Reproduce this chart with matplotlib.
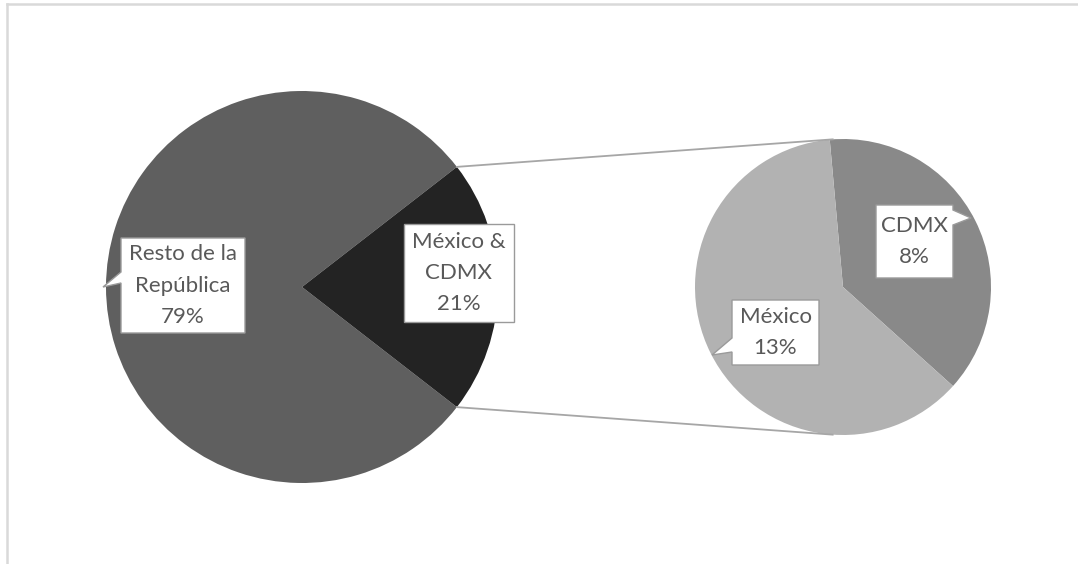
import numpy as np
import matplotlib
matplotlib.use("Agg")
import matplotlib.pyplot as plt
from matplotlib.patches import Polygon

plt.rcParams['font.family'] = ['Lato', 'DejaVu Sans']

# data
main_labels = ["Resto de la\nRepública", "México &\nCDMX"]
main_values = [79, 21]
sub_labels = ["CDMX", "México"]
sub_values = [8, 13]

W, H = 1078, 564
TEXT_COL = "#595959"

fig = plt.figure(figsize=(W / 100, H / 100), dpi=100)
ax = fig.add_axes([0, 0, 1, 1])


def py(y):
    # pixel row -> axis y
    return H - y


# main pie: the small share is centred on the right side
c1 = (302, py(287))
r1 = 196
half = main_values[1] / sum(main_values) * 180
ax.pie(main_values, colors=["#5f5f5f", "#232323"], startangle=half,
       center=c1, radius=r1, frame=True,
       wedgeprops=dict(linewidth=0))

# secondary pie
c2 = (843, py(287))
r2 = 148
ax.pie(sub_values, colors=["#898989", "#b2b2b2"], startangle=-42,
       center=c2, radius=r2, frame=True,
       wedgeprops=dict(linewidth=0))
ax.set_xlim(0, W)
ax.set_ylim(0, H)
ax.set_aspect("equal")
ax.axis("off")

# outer frame (only left and top edges show)
ax.plot([7, 7], [py(4), 0], color="#d9d9d9", lw=1.8)
ax.plot([7, W], [py(4), py(4)], color="#d9d9d9", lw=1.8)

# connector lines
for sgn in (1, -1):
    a1 = np.deg2rad(sgn * half)
    a2 = np.deg2rad(sgn * 94)
    p1 = (c1[0] + r1 * np.cos(a1), c1[1] + r1 * np.sin(a1))
    p2 = (c2[0] + r2 * np.cos(a2), c2[1] + r2 * np.sin(a2))
    ax.plot([p1[0], p2[0]], [p1[1], p2[1]], color="#a6a6a6", lw=1.3, zorder=1)


def callout(box, text, tip=None, side=None, base=None):
    x0, y0, x1, y1 = box
    pts = [(x0, y0), (x1, y0)]
    if side == "right":
        pts += [(x1, base[0]), tip, (x1, base[1])]
    pts += [(x1, y1), (x0, y1)]
    if side == "left":
        pts += [(x0, base[1]), tip, (x0, base[0])]
    poly = Polygon([(x, py(y)) for x, y in pts], closed=True,
                   facecolor="white", edgecolor="#9a9a9a", lw=1.0, zorder=5)
    ax.add_patch(poly)
    ax.text((x0 + x1) / 2, py((y0 + y1) / 2), text, ha="center", va="center",
            fontsize=16, color=TEXT_COL, linespacing=1.7, zorder=6)


def pct(v, total):
    return f"{round(v / total * 100)}%"


tot = sum(main_values)
callout((121, 238, 245, 333), f"{main_labels[0]}\n{pct(main_values[0], tot)}",
        tip=(103, 287), side="left", base=(272, 283))
callout((404, 224, 514, 322), f"{main_labels[1]}\n{pct(main_values[1], tot)}")
callout((732, 300, 819, 365), f"{sub_labels[1]}\n{pct(sub_values[1], tot)}",
        tip=(712, 355), side="left", base=(338, 352))
callout((876, 205, 953, 278), f"{sub_labels[0]}\n{pct(sub_values[0], tot)}",
        tip=(971, 218), side="right", base=(210, 225))

fig.savefig("out.png", dpi=100)
